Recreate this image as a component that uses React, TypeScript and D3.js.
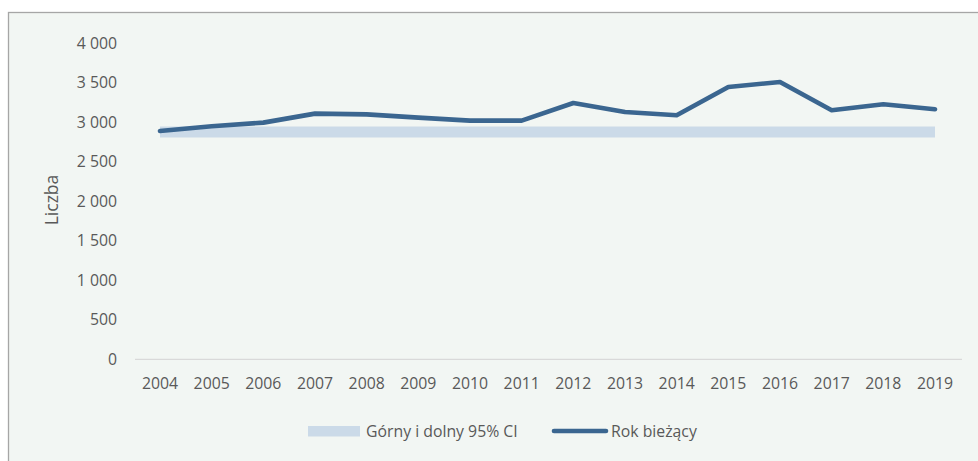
import React from "react";
import * as d3 from "d3";

const years = ["2004","2005","2006","2007","2008","2009","2010","2011","2012","2013","2014","2015","2016","2017","2018","2019"];
const currentYear = [2890, 2950, 2996, 3110, 3100, 3059, 3021, 3021, 3244, 3130, 3089, 3447, 3510, 3152, 3228, 3165];
const ciLower = [2808, 2808, 2808, 2808, 2808, 2808, 2808, 2808, 2808, 2808, 2808, 2808, 2808, 2808, 2808, 2808];
const ciUpper = [2948, 2948, 2948, 2948, 2948, 2948, 2948, 2948, 2948, 2948, 2948, 2948, 2948, 2948, 2948, 2948];
const yTicks = [0, 500, 1000, 1500, 2000, 2500, 3000, 3500, 4000];
const legendLabels = ["Górny i dolny 95% CI", "Rok bieżący"];

const W = 978, H = 461;
const FONT = "'Open Sans', 'Noto Sans', sans-serif";
const TXT = "#595959";
const FS = 15.8;

export default function App() {
  const x = d3.scalePoint<string>().domain(years).range([160, 935]);
  const y = d3.scaleLinear().domain([0, 4000]).range([359.3, 43.3]);
  const fmt = (v: number) => d3.format(",")(v).replace(/,/g, " ");

  const area = d3.area<number>()
    .x((_, i) => x(years[i]) as number)
    .y0((_, i) => y(ciLower[i]))
    .y1((_, i) => y(ciUpper[i]));
  const line = d3.line<number>()
    .x((_, i) => x(years[i]) as number)
    .y((d) => y(d));

  return (
    <>
      <style>{`body{margin:0;}`}</style>
      <svg width={W} height={H} style={{ display: "block", position: "absolute", left: 0, top: 0 }}>
        <rect x={0} y={0} width={W} height={H} fill="#ffffff" />
        <rect x={8.5} y={12.5} width={W + 20} height={H + 20} fill="#f2f6f3" stroke="#a6a6a6" strokeWidth={1.3} />
        {/* axis baseline */}
        <line x1={135} x2={962} y1={y(0)} y2={y(0)} stroke="#d9d9d9" strokeWidth={1.3} />
        {/* y tick labels */}
        {yTicks.map((t) => (
          <text key={t} x={117} y={y(t)} dy="0.35em" textAnchor="end" fontFamily={FONT} fontSize={FS} fill={TXT}>
            {fmt(t)}
          </text>
        ))}
        <text transform="translate(52,200) rotate(-90)" textAnchor="middle" dy="0.35em" fontFamily={FONT} fontSize={17.5} fill={TXT}>
          Liczba
        </text>
        {/* x tick labels */}
        {years.map((yr) => (
          <text key={yr} x={x(yr)} y={383} dy="0.35em" textAnchor="middle" fontFamily={FONT} fontSize={FS} fill={TXT}>
            {yr}
          </text>
        ))}
        {/* CI band */}
        <path d={area(currentYear) || ""} fill="#cbdae8" />
        {/* line */}
        <path d={line(currentYear) || ""} fill="none" stroke="#3b6690" strokeWidth={4.6} strokeLinecap="round" strokeLinejoin="round" />
        {/* legend */}
        <rect x={308} y={426} width={52} height={10.5} fill="#cbdae8" />
        <text x={366} y={431.5} dy="0.35em" fontFamily={FONT} fontSize={FS} fill={TXT}>{legendLabels[0]}</text>
        <line x1={554} x2={606} y1={431} y2={431} stroke="#3b6690" strokeWidth={4.6} strokeLinecap="round" />
        <text x={611} y={431.5} dy="0.35em" fontFamily={FONT} fontSize={FS} fill={TXT}>{legendLabels[1]}</text>
      </svg>
    </>
  );
}
